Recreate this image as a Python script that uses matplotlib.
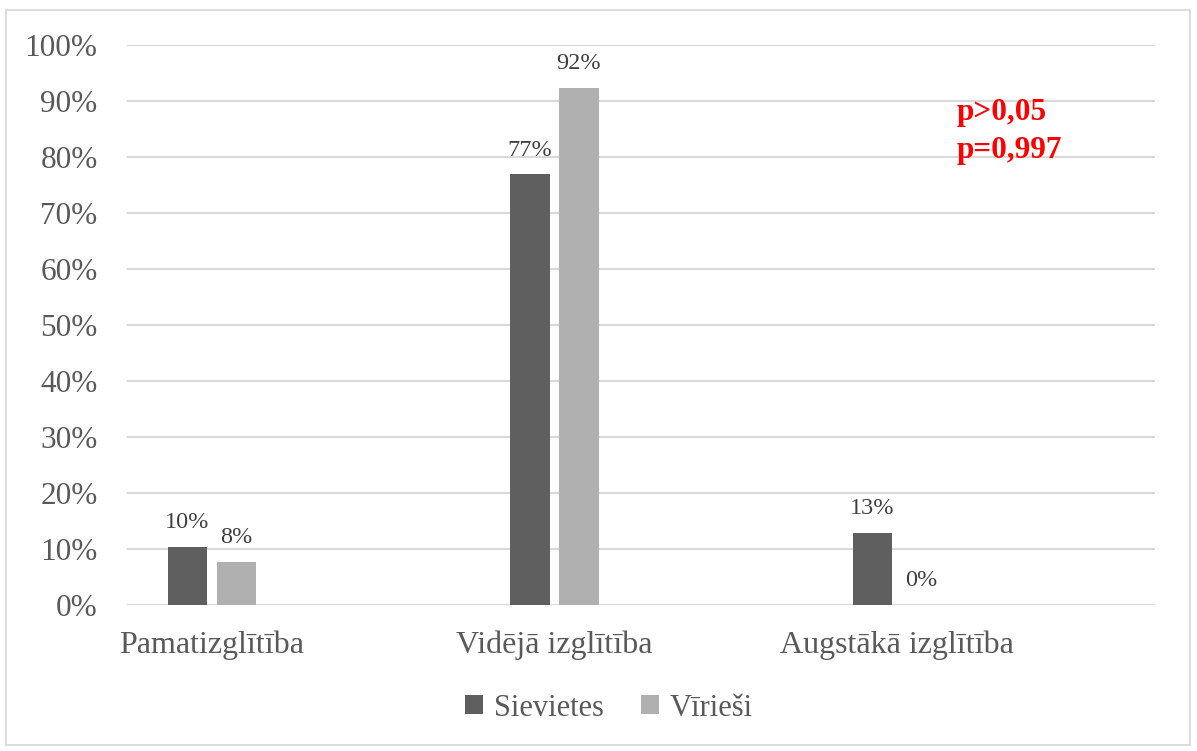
import numpy as np
import matplotlib.pyplot as plt
from matplotlib.patches import Rectangle
from matplotlib.ticker import PercentFormatter

plt.rcParams['font.family'] = ['Liberation Serif', 'DejaVu Serif']

categories = ['Pamatizglītība', 'Vidējā izglītība', 'Augstākā izglītība']
series = ['Sievietes', 'Vīrieši']
sievietes = [10.3, 76.9, 12.8]
virriesi = [7.7, 92.3, 0.0]
colors = ['#5f5f5f', '#b0b0b0']
text_col = '#595959'

fig = plt.figure(figsize=(11.97, 7.51), dpi=100)
ax = fig.add_axes([0.106, 0.1944, 0.859, 0.7456])

# outer chart frame
fig.patches.append(Rectangle((6/1197, 6/751), 1184/1197, 735/751, transform=fig.transFigure,
                             fill=False, edgecolor='#d9d9d9', linewidth=1.3))

x = np.arange(len(categories))
w = 0.114
off = 0.0715
for vals, sign, c, name in [(sievietes, -1, colors[0], series[0]), (virriesi, 1, colors[1], series[1])]:
    bars = ax.bar(x + sign*off, vals, w, color=c, label=name, zorder=3)
    for b, v in zip(bars, vals):
        ax.annotate(f'{v:.0f}%', (b.get_x() + b.get_width()/2, v), xytext=(0, 10),
                    textcoords='offset points', ha='center', va='bottom',
                    fontsize=17.5, color='#404040')

ax.set_ylim(0, 100)
ax.set_xlim(-0.248, 2.753)
ax.set_yticks(np.arange(0, 101, 10))
ax.yaxis.set_major_formatter(PercentFormatter(decimals=0))
ax.set_xticks(x)
ax.set_xticklabels(categories)
ax.grid(axis='y', color='#d9d9d9', linewidth=1.5, zorder=0)
ax.set_axisbelow(True)
for s in ax.spines.values():
    s.set_visible(False)
ax.tick_params(axis='y', length=0, pad=21, labelsize=22.5, labelcolor=text_col)
ax.tick_params(axis='x', length=0, pad=18, labelsize=23, labelcolor=text_col)

fig.text(957/1197, 1 - 98/751, 'p>0,05\np=0,997', color='red', fontsize=22.5,
         fontweight='bold', ha='left', va='top', linespacing=1.4)

fig.legend(loc='center', bbox_to_anchor=(609/1197, 1 - 708/751), ncol=2, frameon=False,
           fontsize=22, labelcolor=text_col, handlelength=0.6, handleheight=0.6,
           handletextpad=0.35, columnspacing=1.2)

fig.savefig('out.png', dpi=100)
